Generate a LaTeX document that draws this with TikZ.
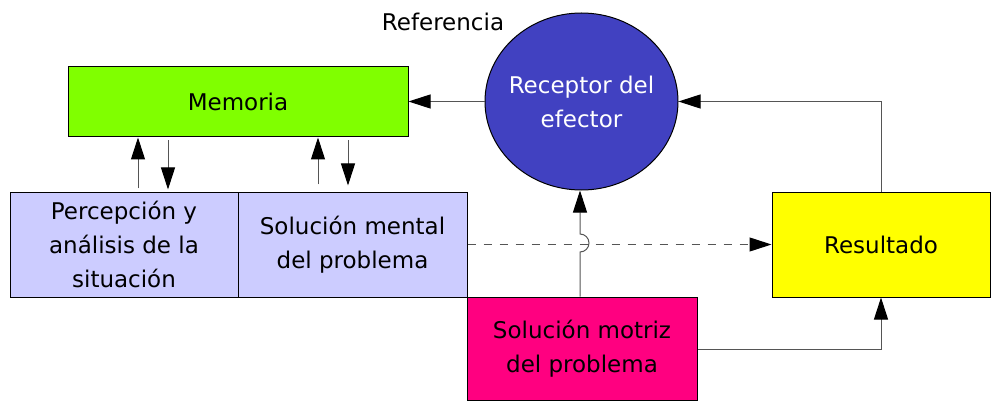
\documentclass[tikz,border=0pt]{standalone}
\usepackage{fontspec}
\setmainfont{DejaVu Sans}
\usetikzlibrary{arrows.meta,calc,shapes.geometric}
\definecolor{cgreen}{HTML}{80FF00}
\definecolor{clav}{HTML}{CCCCFF}
\definecolor{cblue}{HTML}{4141C1}
\definecolor{cyel}{HTML}{FFFF00}
\definecolor{cmag}{HTML}{FF0080}
\definecolor{cline}{HTML}{555555}
\tikzset{
  box/.style={draw=black,line width=1pt,rectangle,inner sep=0pt,align=center,
    font=\fontsize{23}{34}\selectfont},
  arr/.style={draw=cline,line width=1pt,-{Triangle[length=22pt,width=14pt,fill=black,color=black]}},
}
\begin{document}
\begin{tikzpicture}[x=1pt,y=-1pt]
\useasboundingbox (0,0) rectangle (991,401);
\node[box,fill=cgreen,minimum width=340,minimum height=70] (memoria) at (238,102) {Memoria};
\node[box,fill=clav,minimum width=228,minimum height=105] (percep) at (124,244.5) {Percepción y\\análisis de la\\situación};
\node[box,fill=clav,minimum width=229,minimum height=105] (mental) at (352.5,244.5) {Solución mental\\del problema};
\node[box,ellipse,fill=cblue,minimum width=193,minimum height=177,
  label={[text=white,align=center,font=\fontsize{23}{34}\selectfont,inner sep=0pt]center:Receptor del\\efector}] (receptor) at (581.5,101.5) {};
\node[box,fill=cyel,minimum width=218,minimum height=105] (resultado) at (881,244.5) {Resultado};
\node[box,fill=cmag,minimum width=230,minimum height=103] (motriz) at (582,348.5) {Solución motriz\\del problema};
\node[font=\fontsize{23}{34}\selectfont,inner sep=0pt] (ref) at (443,22) {Referencia};
% memoria <-> boxes
\coordinate (u1) at ($(percep.north)+(14,-3)$);
\coordinate (d1) at ($(percep.north)+(44,-2)$);
\coordinate (u2) at ($(mental.north)+(-34.5,-7)$);
\coordinate (d2) at ($(mental.north)+(-4.5,-6)$);
\coordinate (u1t) at (u1 |- memoria.south);
\coordinate (d1t) at ($(d1 |- memoria.south)+(0,3)$);
\coordinate (u2t) at (u2 |- memoria.south);
\coordinate (d2t) at ($(d2 |- memoria.south)+(0,3)$);
\draw[arr] (u1) -- (u1t);
\draw[arr] (d1t) -- (d1);
\draw[arr] (u2) -- (u2t);
\draw[arr] (d2t) -- (d2);
% receptor -> memoria
\draw[arr] (receptor.west) -- (receptor.west -| memoria.east);
% resultado -> receptor
\draw[arr] (resultado.north) -- (resultado.north |- receptor.east) -- (receptor.east);
% motriz -> resultado
\coordinate (m1) at ($(motriz.east)+(0,0.5)$);
\draw[arr] (m1) -- (m1 -| resultado.south) -- (resultado.south);
% dashed mental -> resultado
\draw[arr,dash pattern=on 8pt off 8pt] (mental.east) -- (resultado.west);
% motriz -> receptor with hop
\coordinate (hop) at (580,243);
\draw[arr] (motriz.north -| hop) -- ($(hop)+(0,9)$) arc[start angle=90,end angle=-90,radius=9] -- (receptor.south -| hop);
\end{tikzpicture}
\end{document}
